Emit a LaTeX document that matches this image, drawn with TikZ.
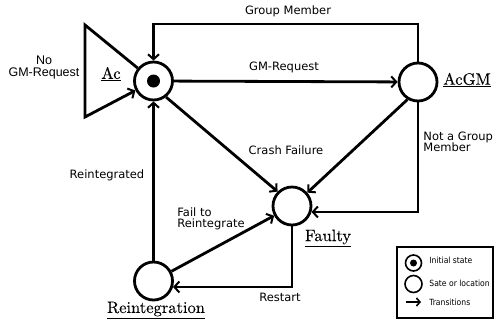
\documentclass[tikz,border=0pt]{standalone}
\usepackage{fontspec}
\newfontfamily\sansf{DejaVu Sans}
\newfontfamily\condf{DejaVu Sans Condensed}
\newfontfamily\arialf{Liberation Sans}
\newfontfamily\serf{lmroman10-regular.otf}[FakeBold=0.12]
\usetikzlibrary{arrows.meta}
\begin{document}
\begin{tikzpicture}[x=1pt,y=-1pt,
  line width=2.8pt,
  st/.style={circle,draw,line width=2.8pt,minimum size=38pt,inner sep=0pt},
  tr/.style={-{Straight Barb[length=5pt,width=11pt,line width=2pt]},line join=miter},
  lbl/.style={font=\sansf\fontsize{11.5}{11.5}\selectfont,inner sep=0pt,align=left},
  nm/.style={font=\serf\fontsize{16.5}{16.5}\selectfont,inner sep=0pt},
  lg/.style={font=\condf\fontsize{8.5}{8.5}\selectfont,inner sep=0pt,anchor=west}]
\useasboundingbox (0,0) rectangle (494,322);
% states
\node[st] (ac) at (153.5,81) {};
\fill (ac.center) circle (6.5pt);
\node[st] (acgm) at (418,82) {};
\node[st] (faulty) at (292,206) {};
\node[st] (reint) at (153.5,281) {};
% triangle self loop
\coordinate (t1) at (85,25);
\coordinate (t2) at (85,117);
\draw[tr] (ac) -- (t1) -- (t2) -- (ac);
% transitions
\coordinate (gmc) at (153.5,24);
\draw[tr] (acgm.north) |- (gmc) -- (ac.north);
\draw[tr] (ac) -- (acgm);
\draw[tr] (ac.-52) -- (faulty.135);
\draw[tr] (acgm.-121) -- (faulty.41);
\draw[tr] (acgm.south) |- (faulty.-17);
\draw[tr] (reint.north) -- (ac.south);
\draw[tr] (reint) -- (faulty);
\draw[tr] (faulty.south) |- (reint.-17);
% labels
\node[lbl] (lgm) at (288,11) {Group Member};
\node[lbl] (lreq) at (284,67) {GM-Request};
\node[lbl] (lcrash) at (286,150) {Crash Failure};
\node[lbl,anchor=west] (lnot) at (422,142) {Not a Group\\Member};
\node[lbl] (lreint) at (107,175) {Reintegrated};
\node[lbl,anchor=west] (lfail) at (176,219) {Fail to\\Reintegrate};
\node[lbl] (lrest) at (280,297) {Restart};
\node[font=\arialf\fontsize{12.5}{12}\selectfont,inner sep=0pt,align=center] (lno) at (44,67) {No\\GM-Request};
% state names
\node[nm] (nac) at (111,74) {\underline{Ac}};
\node[nm] (nacgm) at (467,80) {\underline{AcGM}};
\node[nm] (nfaulty) at (328,238) {\underline{Faulty}};
\node[nm] (nreint) at (156,310) {\underline{Reintegration}};
% legend
\draw[line width=1.5pt] (397,247) rectangle (493,318);
\node[circle,draw,line width=1.6pt,minimum size=16pt,inner sep=0pt] (li) at (413.5,263) {};
\fill (li.center) circle (3.5pt);
\node[circle,draw,line width=1.6pt,minimum size=17pt,inner sep=0pt] (ls) at (413.5,284) {};
\coordinate (la1) at (406,302);
\coordinate (la2) at (421,302);
\draw[-{Straight Barb[length=3.5pt,width=8pt,line width=1.6pt]},line width=1.8pt] (la1) -- (la2);
\node[lg] (lti) at (428,260) {Initial state};
\node[lg] (lts) at (428,283) {Sate or location};
\node[lg] (ltt) at (428,302) {Transitions};
\end{tikzpicture}
\end{document}
